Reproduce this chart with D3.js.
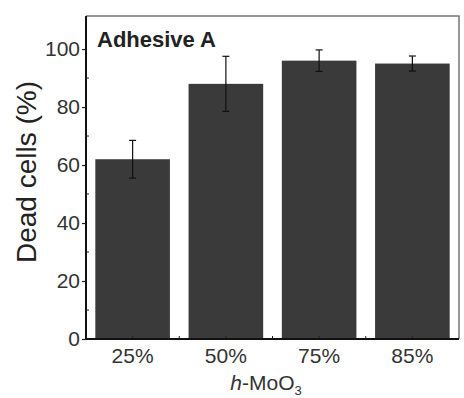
<!DOCTYPE html>
<html>
<head>
<meta charset="utf-8">
<script src="https://cdn.jsdelivr.net/npm/d3@7"></script>
<style>
  body { margin: 0; background: #fff; }
  svg { font-family: "Liberation Sans", Arial, sans-serif; }
</style>
</head>
<body>
<div id="chart"></div>
<script>
// data
const categories = ["25%", "50%", "75%", "85%"];
const deadCells = [62, 88, 96, 95];
const errors = [6.5, 9.5, 3.7, 2.6];
const yTicks = [0, 20, 40, 60, 80, 100];
const yMinorTicks = [10, 30, 50, 70, 90];

const width = 464, height = 398;
const margin = {top: 16, right: 5, bottom: 59, left: 86};
const w = width - margin.left - margin.right;
const h = height - margin.top - margin.bottom;

const svg = d3.select("#chart").append("svg")
    .attr("width", width)
    .attr("height", height);

const g = svg.append("g")
    .attr("transform", `translate(${margin.left},${margin.top})`);

const x = d3.scaleBand()
    .domain(categories)
    .range([0, w])
    .paddingInner(0.2)
    .paddingOuter(0.1);

const y = d3.scaleLinear()
    .domain([0, 111.4])
    .range([h, 0]);

// frame (top + right)
g.append("path")
    .attr("d", `M0,0H${w}V${h}`)
    .attr("fill", "none")
    .attr("stroke", "#777")
    .attr("stroke-width", 1.5);

// bars
g.selectAll(".bar")
    .data(deadCells)
    .enter()
    .append("rect")
    .attr("class", "bar")
    .attr("x", (d, i) => x(categories[i]))
    .attr("y", d => y(d))
    .attr("width", x.bandwidth())
    .attr("height", d => h - y(d))
    .attr("fill", "#3a3a3a");

// error bars
const eb = g.selectAll(".err")
    .data(deadCells)
    .enter()
    .append("g")
    .attr("class", "err")
    .attr("stroke", "#111")
    .attr("stroke-width", 1.2);
eb.append("line")
    .attr("x1", (d, i) => x(categories[i]) + x.bandwidth() / 2)
    .attr("x2", (d, i) => x(categories[i]) + x.bandwidth() / 2)
    .attr("y1", (d, i) => y(d + errors[i]))
    .attr("y2", (d, i) => y(d - errors[i]));
[1, -1].forEach(s => {
    eb.append("line")
        .attr("x1", (d, i) => x(categories[i]) + x.bandwidth() / 2 - 3.5)
        .attr("x2", (d, i) => x(categories[i]) + x.bandwidth() / 2 + 3.5)
        .attr("y1", (d, i) => y(d + s * errors[i]))
        .attr("y2", (d, i) => y(d + s * errors[i]));
});

// y axis
const yAxis = d3.axisLeft(y).tickValues(yTicks).tickSize(4).tickPadding(2);
const yg = g.append("g").call(yAxis);
yg.select(".domain").remove();
yg.selectAll("text")
    .attr("font-size", 21)
    .attr("fill", "#333")
    .attr("font-family", "Liberation Sans, Arial, sans-serif");
yg.selectAll("line").attr("stroke", "#222").attr("stroke-width", 1.2);

g.append("g").selectAll("line")
    .data(yMinorTicks)
    .enter()
    .append("line")
    .attr("x1", 0).attr("x2", 3)
    .attr("y1", d => y(d)).attr("y2", d => y(d))
    .attr("stroke", "#222");

g.append("line")
    .attr("x1", 0).attr("x2", 0)
    .attr("y1", 0).attr("y2", h)
    .attr("stroke", "#111").attr("stroke-width", 2);

// x axis
const xAxis = d3.axisBottom(x).tickSize(0).tickPadding(9);
const xg = g.append("g")
    .attr("transform", `translate(0,${h})`)
    .call(xAxis);
xg.select(".domain").remove();
xg.selectAll("text")
    .attr("font-size", 21)
    .attr("fill", "#333")
    .attr("font-family", "Liberation Sans, Arial, sans-serif");

// small tick marks on the x axis
g.append("g").selectAll("line")
    .data(categories)
    .enter()
    .append("line")
    .attr("x1", d => x(d) + x.bandwidth() / 2)
    .attr("x2", d => x(d) + x.bandwidth() / 2)
    .attr("y1", h).attr("y2", h - 3)
    .attr("stroke", "#222");
g.append("g").selectAll("line")
    .data(categories.slice(1))
    .enter()
    .append("line")
    .attr("x1", d => x(d) - x.step() * x.paddingInner() / 2)
    .attr("x2", d => x(d) - x.step() * x.paddingInner() / 2)
    .attr("y1", h).attr("y2", h - 3)
    .attr("stroke", "#222");

g.append("line")
    .attr("x1", 0).attr("x2", w)
    .attr("y1", h).attr("y2", h)
    .attr("stroke", "#111").attr("stroke-width", 2);

// labels
g.append("text")
    .attr("x", 11)
    .attr("y", 31)
    .attr("font-size", 22)
    .attr("font-weight", "bold")
    .attr("fill", "#222")
    .text("Adhesive A");

svg.append("text")
    .attr("transform", `translate(36,172) rotate(-90)`)
    .attr("text-anchor", "middle")
    .attr("font-size", 28)
    .attr("fill", "#222")
    .text("Dead cells (%)");

const xl = svg.append("text")
    .attr("x", 266)
    .attr("y", 390)
    .attr("text-anchor", "middle")
    .attr("font-size", 21)
    .attr("fill", "#333");
xl.append("tspan").attr("font-style", "italic").text("h");
xl.append("tspan").text("-MoO");
xl.append("tspan").attr("font-size", 13).attr("dy", 5).text("3");
</script>
</body>
</html>
